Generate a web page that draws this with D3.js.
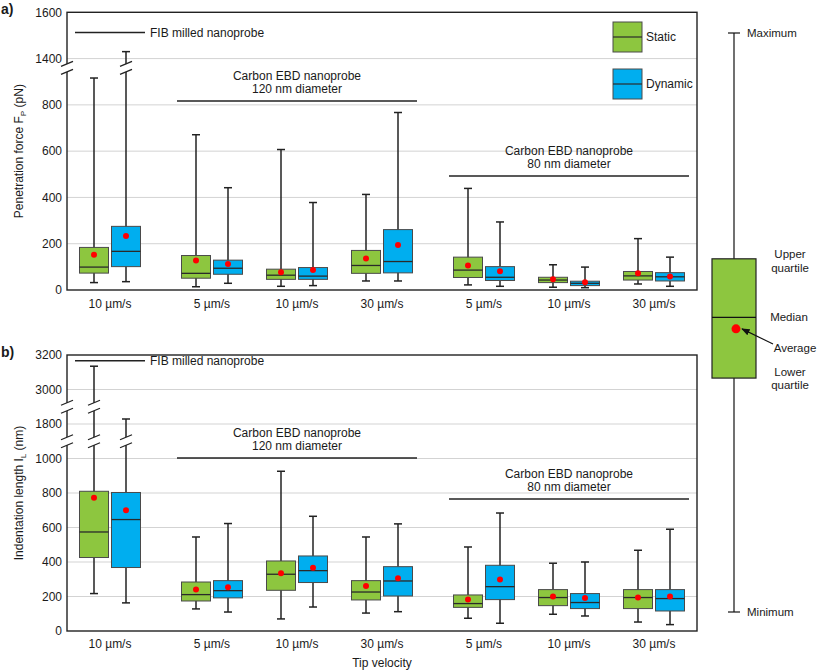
<!DOCTYPE html>
<html><head><meta charset="utf-8">
<script src="https://cdn.jsdelivr.net/npm/d3@7"></script>
<style>
body{margin:0;background:#fff}
text{font-family:"Liberation Sans",Arial,sans-serif;fill:#1a1a1a}
</style>
</head><body>
<svg id="c" width="817" height="671"></svg>
<script>
// ---------------- DATA ----------------
const categories = ["10 µm/s","5 µm/s","10 µm/s","30 µm/s","5 µm/s","10 µm/s","30 µm/s"];
const categoryGroup = [0,1,1,1,2,2,2];
const groupNames = [["FIB milled nanoprobe"],["Carbon EBD nanoprobe","120 nm diameter"],["Carbon EBD nanoprobe","80 nm diameter"]];
const seriesNames = ["Static","Dynamic"];
const seriesColors = ["#8dc63f","#00aeef"];
// each entry: [min, lowerQuartile, median, upperQuartile, max, average]
const forceStatic = [[32,73,99,184,916,152],[14,51,72,149,671,127],[16,46,64,90,607,77],[39,72,106,171,413,136],[22,54,86,142,439,106],[12,32,43,55,109,46],[26,43,61,80,222,72]];
const forceDynamic = [[36,101,167,275,1430,233],[29,68,94,129,442,112],[19,46,60,97,378,86],[39,74,123,261,767,194],[16,41,55,101,294,81],[10,19,29,38,99,33],[16,39,57,75,142,58]];
const lengthStatic = [[217,426,574,810,3135,772],[128,174,211,284,545,240],[70,236,329,406,926,335],[104,180,226,292,545,261],[74,137,159,209,487,182],[97,147,194,240,393,200],[52,130,194,240,468,194]];
const lengthDynamic = [[163,368,646,803,1829,700],[110,192,234,292,623,253],[139,281,350,435,665,366],[112,203,290,373,621,306],[45,182,257,381,684,298],[87,130,165,217,400,192],[37,116,188,240,590,200]];
const forceTicks = [0,200,400,600,800,1400,1600];
const forceSegments = [[0,960],[1360,1600]];
const lengthTicks = [0,200,400,600,800,1000,1800,3000,3200];
const lengthSegments = [[0,1100],[1700,1900],[2900,3200]];
const keyStats = [0,0.404,0.509,0.61,1,0.489];
const keyLabels = {max:"Maximum",upper:["Upper","quartile"],median:"Median",avg:"Average",lower:["Lower","quartile"],min:"Minimum"};

// ---------------- LAYOUT ----------------
const svg = d3.select("#c");
const L = 67, R = 697;
const GAP = 0.2;
const xs = d3.scaleLinear().domain([0, categories.length-1 + GAP*2]).range([L+43, R-43]);
const pairX = i => xs(i + GAP*categoryGroup[i]);
const OFF = 16, BW = 29;

function brokenScale(segs, y0, y1){
  const total = d3.sum(segs, s => s[1]-s[0]);
  const k = (y0-y1)/total;
  const dom=[], rng=[]; let acc=0;
  segs.forEach(s=>{dom.push(s[0]); rng.push(y0-acc*k); acc+=s[1]-s[0]; dom.push(s[1]); rng.push(y0-acc*k);});
  return d3.scaleLinear().domain(dom).range(rng);
}

function breakMark(g, x, y){
  g.append("path").attr("d",`M${x-6},${y-1.5} L${x+6},${y-6.5} L${x+6},${y+1.5} L${x-6},${y+6.5} Z`).attr("fill","#fff");
  g.append("line").attr("x1",x-6).attr("y1",y-1.5).attr("x2",x+6).attr("y2",y-6.5).attr("stroke","#222").attr("stroke-width",1.3);
  g.append("line").attr("x1",x-6).attr("y1",y+6.5).attr("x2",x+6).attr("y2",y+1.5).attr("stroke","#222").attr("stroke-width",1.3);
}

function panel(cfg){
  const g = svg.append("g");
  const y = brokenScale(cfg.segs, cfg.bottom, cfg.top);
  const tmax = cfg.ticks[cfg.ticks.length-1];
  g.selectAll(".grid").data(cfg.ticks.filter(t=>t>0 && t<tmax)).join("line")
    .attr("x1",L).attr("x2",R).attr("y1",d=>y(d)).attr("y2",d=>y(d))
    .attr("stroke","#d3d3d3").attr("stroke-width",1);
  const ax = g.append("g").attr("transform",`translate(${L},0)`)
    .call(d3.axisLeft(y).tickValues(cfg.ticks).tickSize(0).tickPadding(5).tickFormat(d3.format("d")));
  ax.select(".domain").remove();
  ax.selectAll("text").attr("font-size",12).attr("fill","#1a1a1a").style("font-family",'"Liberation Sans",Arial,sans-serif');
  groupNames.forEach((names, gi)=>{
    const idx = categoryGroup.map((c,i)=>c===gi?i:-1).filter(i=>i>=0);
    const x1 = pairX(idx[0])-35, x2 = pairX(idx[idx.length-1])+35;
    const ly = cfg.annY[gi];
    g.append("line").attr("x1",x1).attr("x2",x2).attr("y1",ly).attr("y2",ly).attr("stroke","#222").attr("stroke-width",1.5);
    if(names.length===1){
      g.append("text").attr("x",x2+5).attr("y",ly+4.5).attr("font-size",12).text(names[0]);
    } else {
      names.forEach((n,k)=>g.append("text").attr("x",(x1+x2)/2).attr("y",ly-21.5+k*13.5).attr("text-anchor","middle").attr("font-size",12).text(n));
    }
  });
  const breaks = cfg.segs.slice(0,-1).map((s,i)=>({lo:s[1], hi:cfg.segs[i+1][0], y:y(s[1])}));
  cfg.series.forEach((ser, si)=>{
    ser.forEach((st, i)=>{
      const cx = pairX(i) + (si===0?-OFF:OFF);
      const [mn,q1,md,q3,mx,av] = st;
      g.append("line").attr("x1",cx).attr("x2",cx).attr("y1",y(mn)).attr("y2",y(mx)).attr("stroke","#222").attr("stroke-width",1.5);
      [mn,mx].forEach(v=>g.append("line").attr("x1",cx-4).attr("x2",cx+4).attr("y1",y(v)).attr("y2",y(v)).attr("stroke","#222").attr("stroke-width",1.5));
      g.append("rect").attr("x",cx-BW/2).attr("width",BW).attr("y",y(q3)).attr("height",y(q1)-y(q3))
        .attr("fill",seriesColors[si]).attr("stroke","#4a4a4a").attr("stroke-width",1);
      g.append("line").attr("x1",cx-BW/2).attr("x2",cx+BW/2).attr("y1",y(md)).attr("y2",y(md)).attr("stroke","#2a2a2a").attr("stroke-width",1.3);
      g.append("circle").attr("cx",cx).attr("cy",y(av)).attr("r",3).attr("fill","#ff0000");
      breaks.forEach(b=>{ if(mn<b.lo && mx>b.hi) breakMark(g, cx, b.y); });
    });
  });
  g.selectAll(".cat").data(categories).join("text")
    .attr("x",(d,i)=>pairX(i)).attr("y",cfg.bottom+cfg.catDy).attr("text-anchor","middle").attr("font-size",12).text(d=>d);
  g.append("rect").attr("x",L).attr("y",cfg.top).attr("width",R-L).attr("height",cfg.bottom-cfg.top)
    .attr("fill","none").attr("stroke","#222").attr("stroke-width",1.4);
  breaks.forEach(b=>breakMark(g, L, b.y));
  const t = g.append("text").attr("transform",`translate(23,${(cfg.top+cfg.bottom)/2}) rotate(-90)`).attr("text-anchor","middle").attr("font-size",12);
  t.append("tspan").text(cfg.title[0]);
  t.append("tspan").attr("font-size",8).attr("dy",3).text(cfg.title[1]);
  t.append("tspan").attr("dy",-3).text(cfg.title[2]);
  g.append("text").attr("x",1).attr("y",cfg.top+2).attr("font-size",14).attr("font-weight","bold").text(cfg.label);
  return {g,y};
}

const panelA = panel({top:12.3, bottom:290, segs:forceSegments, ticks:forceTicks, series:[forceStatic,forceDynamic],
  annY:[32.5,101,176], title:["Penetration force F","P"," (pN)"], label:"a)", catDy:18});
const panelB = panel({top:355, bottom:631, segs:lengthSegments, ticks:lengthTicks, series:[lengthStatic,lengthDynamic],
  annY:[360.7,458,499], title:["Indentation length I","L"," (nm)"], label:"b)", catDy:16.5});

svg.append("text").attr("x",(L+R)/2).attr("y",667).attr("text-anchor","middle").attr("font-size",12).text("Tip velocity");

seriesNames.forEach((n,i)=>{
  const ly = 22 + i*47;
  svg.append("rect").attr("x",613).attr("y",ly).attr("width",BW).attr("height",30).attr("fill",seriesColors[i]).attr("stroke","#4a4a4a").attr("stroke-width",1);
  svg.append("line").attr("x1",613).attr("x2",613+BW).attr("y1",ly+15).attr("y2",ly+15).attr("stroke","#2a2a2a").attr("stroke-width",1.2);
  svg.append("text").attr("x",646).attr("y",ly+19).attr("font-size",12).text(n);
});

const ky = d3.scaleLinear().domain([0,1]).range([612,33]);
const kx = 734, kw = 44;
const [kmn,kq1,kmd,kq3,kmx,kav] = keyStats;
svg.append("line").attr("x1",kx).attr("x2",kx).attr("y1",ky(kmn)).attr("y2",ky(kmx)).attr("stroke","#111").attr("stroke-width",1.2);
[kmn,kmx].forEach(v=>svg.append("line").attr("x1",kx-6).attr("x2",kx+6).attr("y1",ky(v)).attr("y2",ky(v)).attr("stroke","#111").attr("stroke-width",1.2));
svg.append("rect").attr("x",kx-kw/2).attr("width",kw).attr("y",ky(kq3)).attr("height",ky(kq1)-ky(kq3)).attr("fill",seriesColors[0]).attr("stroke","#222").attr("stroke-width",1.2);
svg.append("line").attr("x1",kx-kw/2).attr("x2",kx+kw/2).attr("y1",ky(kmd)).attr("y2",ky(kmd)).attr("stroke","#111").attr("stroke-width",1.2);
svg.append("circle").attr("cx",kx+2).attr("cy",ky(kav)).attr("r",4.5).attr("fill","#ff0000");
svg.append("defs").append("marker").attr("id","ah").attr("viewBox","0 0 10 10").attr("refX",9).attr("refY",5)
  .attr("markerWidth",7).attr("markerHeight",7).attr("orient","auto")
  .append("path").attr("d","M0,1 L10,5 L0,9 Z").attr("fill","#111");
svg.append("line").attr("x1",773).attr("y1",344).attr("x2",742).attr("y2",ky(kav)).attr("stroke","#111").attr("stroke-width",1.2).attr("marker-end","url(#ah)");
const kt = (x,yv,t,anchor)=>svg.append("text").attr("x",x).attr("y",yv).attr("font-size",11.5).attr("text-anchor",anchor||"start").text(t);
kt(747, ky(kmx)+4, keyLabels.max);
kt(747, ky(kmn)+4, keyLabels.min);
kt(790, ky(kq3)-1, keyLabels.upper[0], "middle");
kt(790, ky(kq3)+13, keyLabels.upper[1], "middle");
kt(789, ky(kmd)+4, keyLabels.median, "middle");
kt(795, 352, keyLabels.avg, "middle");
kt(790, ky(kq1)-2, keyLabels.lower[0], "middle");
kt(790, ky(kq1)+11, keyLabels.lower[1], "middle");
</script>
</body></html>
